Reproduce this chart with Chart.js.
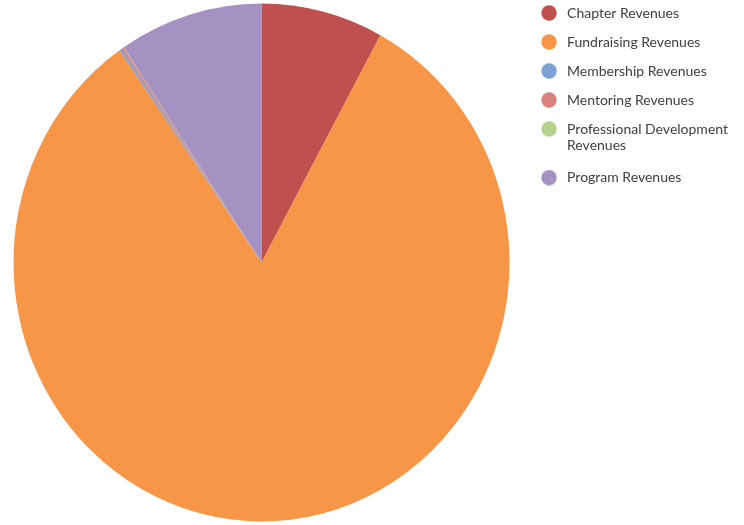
<!DOCTYPE html>
<html><head><meta charset="utf-8">
<script src="https://cdn.jsdelivr.net/npm/chart.js@4"></script>
<style>html,body{margin:0;padding:0;background:#fff}#wrap{width:744px;height:525px;position:relative}</style>
</head><body><div id="wrap"><canvas id="c"></canvas></div>
<script>
const categories = ['Chapter Revenues', 'Fundraising Revenues', 'Membership Revenues', 'Mentoring Revenues', 'Professional Development Revenues', 'Program Revenues'];
const revenueShare = [7.95, 82.35, 0.15, 0.15, 0.02, 9.38];
const sliceColors = ['#C0504D', '#F79646', '#7DA2D6', '#D9827F', '#B5D38D', '#A492C2'];

function wrapLabel(s) {
  if (s.length <= 25) return s;
  const i = s.lastIndexOf(' ');
  return [s.slice(0, i), s.slice(i + 1)];
}
function dot(color) {
  const c = document.createElement('canvas');
  c.width = 16; c.height = 16;
  const x = c.getContext('2d');
  x.fillStyle = color;
  x.beginPath(); x.arc(8, 8, 7.7, 0, Math.PI * 2); x.fill();
  return c;
}
const stretch = {
  id: 'stretch',
  beforeDatasetsDraw(chart) {
    const a = chart.getDatasetMeta(0).data[0];
    const ctx = chart.ctx;
    ctx.save();
    ctx.translate(a.x, a.y); ctx.scale(1, 1.044); ctx.translate(-a.x, -a.y);
  },
  afterDatasetsDraw(chart) { chart.ctx.restore(); }
};

new Chart(document.getElementById('c'), {
  type: 'pie',
  data: {
    labels: categories,
    datasets: [{ data: revenueShare, backgroundColor: sliceColors, borderWidth: 0 }]
  },
  plugins: [stretch],
  options: {
    responsive: true,
    maintainAspectRatio: false,
    animation: false,
    radius: 248,
    layout: { padding: { top: -9, bottom: -12, left: 0, right: 6 } },
    plugins: {
      tooltip: { enabled: false },
      legend: {
        position: 'right',
        align: 'start',
        labels: {
          usePointStyle: true,
          pointStyleWidth: 22,
          boxHeight: 14,
          padding: 15,
          color: '#404040',
          font: { family: 'Lato', size: 14 },
          generateLabels(chart) {
            const ds = chart.data.datasets[0];
            return chart.data.labels.map((lab, i) => ({
              text: wrapLabel(lab),
              fillStyle: ds.backgroundColor[i],
              strokeStyle: ds.backgroundColor[i],
              lineWidth: 0,
              pointStyle: dot(ds.backgroundColor[i]),
              fontColor: '#404040',
              hidden: false,
              index: i
            }));
          }
        }
      }
    }
  }
});
</script>
</body></html>
